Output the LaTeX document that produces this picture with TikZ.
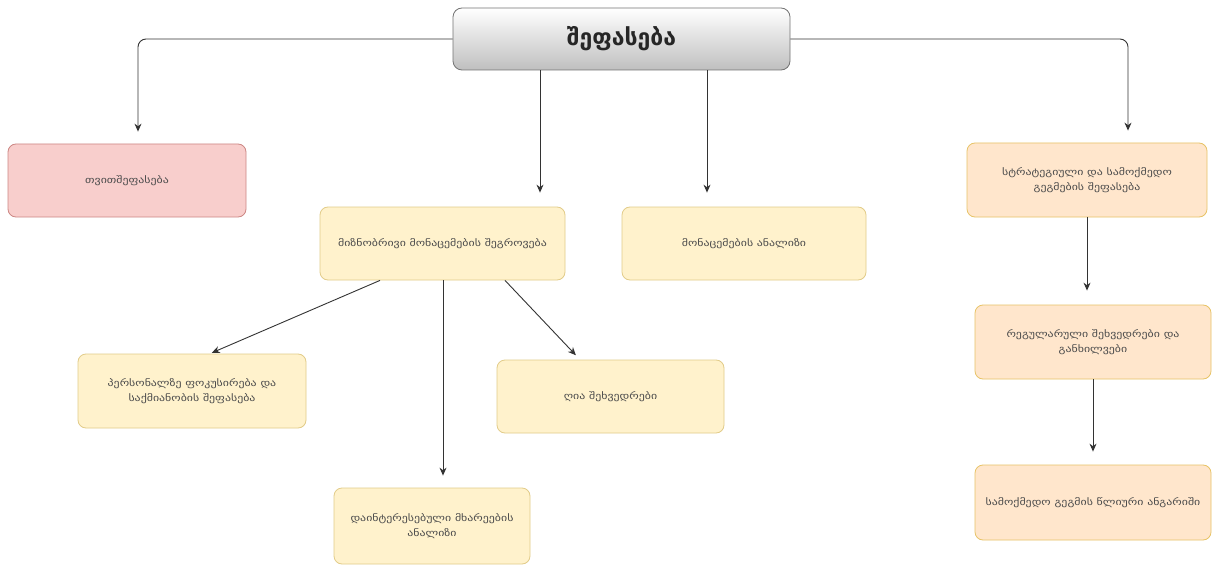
\documentclass[tikz,border=0pt]{standalone}
\usepackage{fontspec}
\newfontfamily\geo[FakeStretch=1.25]{DejaVu Sans}
\newfontfamily\geotitle{DejaVu Sans}
\usetikzlibrary{arrows.meta,calc}
\definecolor{pinkfill}{HTML}{F8CECC}
\definecolor{pinkline}{HTML}{B85450}
\definecolor{yelfill}{HTML}{FFF2CC}
\definecolor{yelline}{HTML}{D6B656}
\definecolor{orfill}{HTML}{FFE6CC}
\definecolor{orline}{HTML}{D79B00}
\definecolor{arrcol}{HTML}{333333}
\tikzset{
  x=1pt,y=-1pt,
  box/.style={rounded corners=8pt, line width=0.8pt, align=center, inner sep=4pt,
    font=\geo\fontsize{9.5}{15}\selectfont, text=black!70},
  pinkbox/.style={box, fill=pinkfill, draw=pinkline!70},
  yelbox/.style={box, fill=yelfill, draw=yelline!70},
  orbox/.style={box, fill=orfill, draw=orline!60},
  arr/.style={draw=arrcol, line width=0.9pt, -{Stealth[length=8pt,width=7pt]}},
}
\begin{document}
\begin{tikzpicture}
\useasboundingbox (0,0) rectangle (1213,567);
\fill[white] (0,0) rectangle (1213,567);
% title
\node[rounded corners=9pt, draw=black!55, line width=0.8pt, top color=white, bottom color=black!25,
  minimum width=337pt, minimum height=62pt, font=\geotitle\fontsize{23}{26}\selectfont\bfseries, text=black!85]
  (title) at (621.5,39) {შეფასება};
% boxes
\node[pinkbox, minimum width=238pt, minimum height=73pt] (self) at (127,180.5) {თვითშეფასება};
\node[yelbox, minimum width=245pt, minimum height=73pt] (target) at (442.5,243.5) {მიზნობრივი მონაცემების შეგროვება};
\node[yelbox, minimum width=244pt, minimum height=73pt] (analysis) at (744,243.5) {მონაცემების ანალიზი};
\node[orbox, minimum width=240pt, minimum height=74pt] (strat) at (1087,180) {სტრატეგიული და სამოქმედო\\გეგმების შეფასება};
\node[yelbox, minimum width=228pt, minimum height=74pt] (person) at (192,391) {პერსონალზე ფოკუსირება და\\საქმიანობის შეფასება};
\node[yelbox, minimum width=227pt, minimum height=73pt] (open) at (610.5,396.5) {ღია შეხვედრები};
\node[yelbox, minimum width=196pt, minimum height=76pt] (stake) at (432,526) {დაინტერესებული მხარეების\\ანალიზი};
\node[orbox, minimum width=236pt, minimum height=74pt] (regular) at (1093,342) {რეგულარული შეხვედრები და\\განხილვები};
\node[orbox, minimum width=236pt, minimum height=75pt] (annual) at (1093,502.5) {სამოქმედო გეგმის წლიური ანგარიში};
% helper coordinates for attachment x positions
\coordinate (xa) at (540,0);
\coordinate (xb) at (707,0);
\coordinate (xc) at (380,0);
\coordinate (xd) at (210,0);
\coordinate (xe) at (443,0);
\coordinate (xf) at (505,0);
\coordinate (xg) at (580,0);
% connectors
\draw[arr, rounded corners=8pt, shorten >=12pt] (title.west) -| (self.north -| 138,0);
\draw[arr, rounded corners=8pt, shorten >=12pt] (title.east) -| (strat.north -| 1128,0);
\draw[arr, shorten >=14pt] (title.south -| xa) -- (target.north -| xa);
\draw[arr, shorten >=14pt] (title.south -| xb) -- (analysis.north -| xb);
\draw[arr, shorten >=2pt] (target.south -| xc) -- (person.north -| xd);
\draw[arr, shorten >=12pt] (target.south -| xe) -- (stake.north -| xe);
\draw[arr, shorten >=6pt] (target.south -| xf) -- (open.north -| xg);
\draw[arr, shorten >=14pt] (strat.south) -- (regular.north -| strat.south);
\draw[arr, shorten >=13pt] (regular.south) -- (annual.north);
\end{tikzpicture}
\end{document}
